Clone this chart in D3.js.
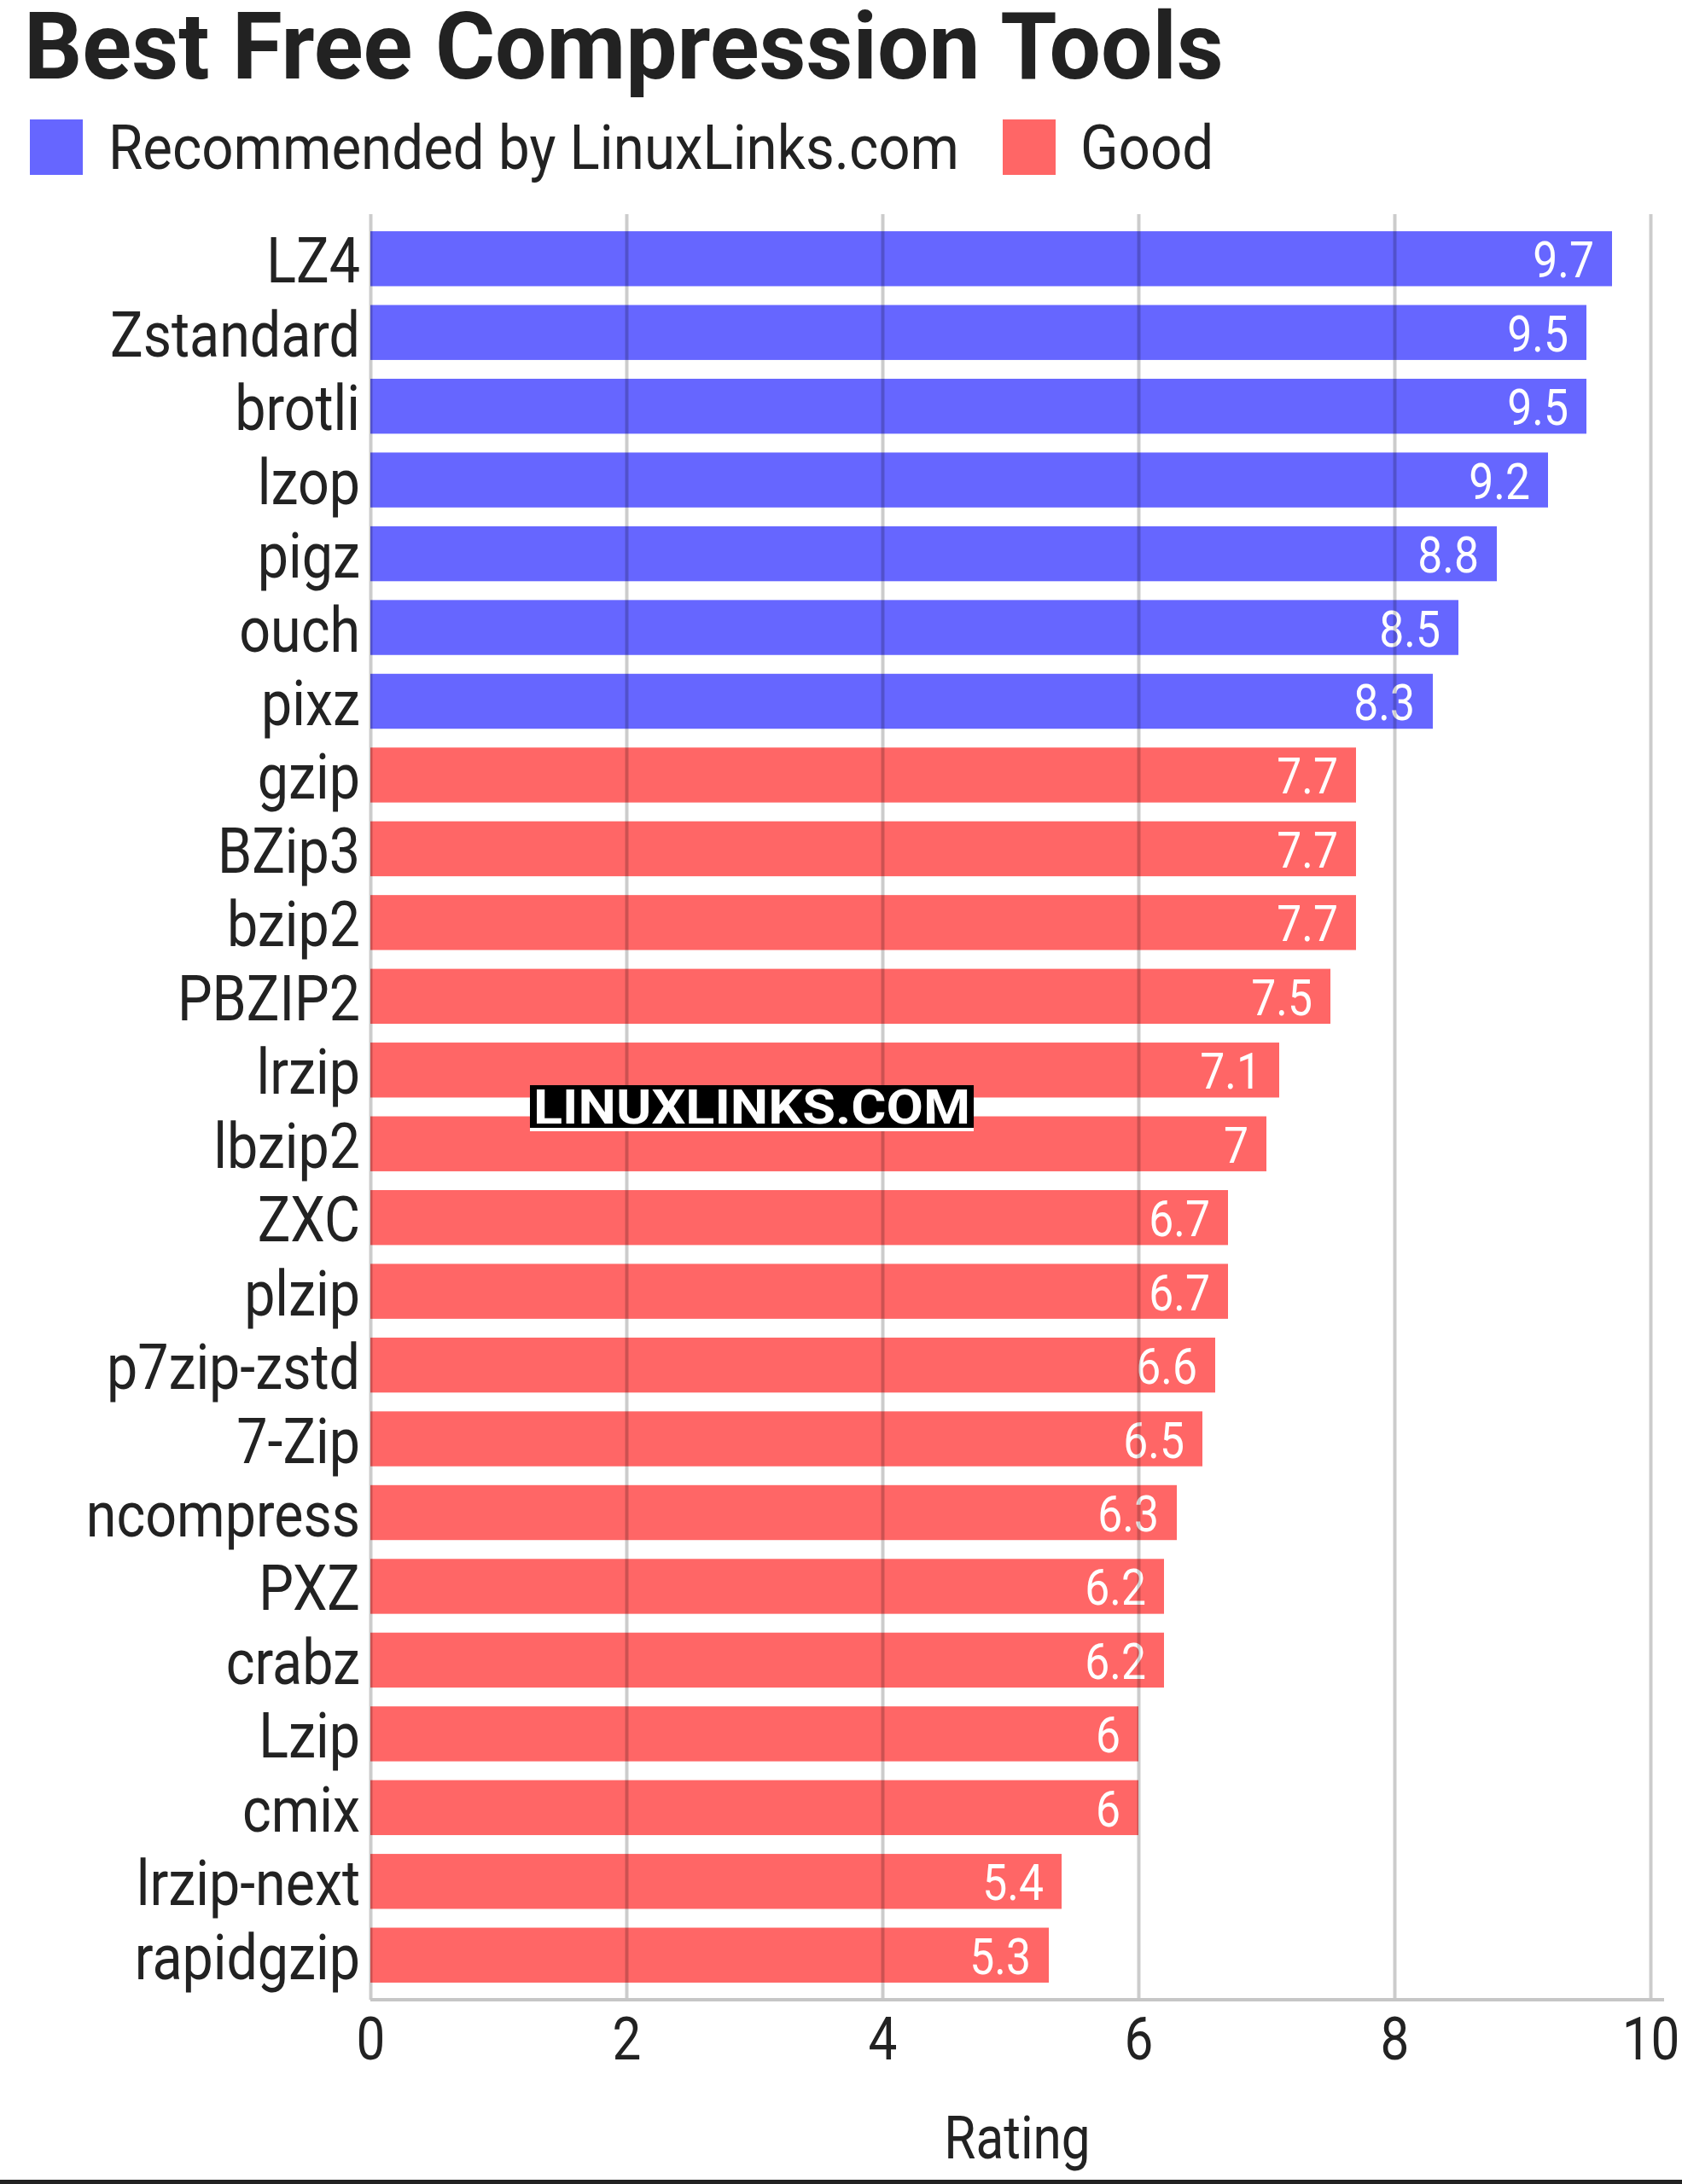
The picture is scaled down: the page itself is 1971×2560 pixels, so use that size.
<!DOCTYPE html>
<html><head><meta charset="utf-8">
<script src="https://cdn.jsdelivr.net/npm/d3@7"></script>
<style>
html,body{margin:0;padding:0;background:#fff;}
svg{display:block;}
text{font-family:Roboto, "Noto Sans", sans-serif;}
</style></head>
<body>
<script>
const categories = ["LZ4","Zstandard","brotli","lzop","pigz","ouch","pixz","gzip","BZip3","bzip2","PBZIP2","lrzip","lbzip2","ZXC","plzip","p7zip-zstd","7-Zip","ncompress","PXZ","crabz","Lzip","cmix","lrzip-next","rapidgzip"];
const ratings = [9.7,9.5,9.5,9.2,8.8,8.5,8.3,7.7,7.7,7.7,7.5,7.1,7,6.7,6.7,6.6,6.5,6.3,6.2,6.2,6,6,5.4,5.3];
const groups = ["rec","rec","rec","rec","rec","rec","rec","good","good","good","good","good","good","good","good","good","good","good","good","good","good","good","good","good"];
const legendLabels = ["Recommended by LinuxLinks.com","Good"];
const xTicks = [0,2,4,6,8,10];
const titleText = "Best Free Compression Tools";
const xAxisTitle = "Rating";
const watermark = "LINUXLINKS.COM";

const W = 1971, H = 2560;
const colors = {rec:"#6666ff", good:"#ff6666"};
const pLeft = 434, pRight = 1934, pTop = 251, pBottom = 2344;

const svg = d3.select("body").append("svg").attr("width",W).attr("height",H);

const x = d3.scaleLinear().domain([0,10]).range([pLeft,pRight]);
const y = d3.scaleBand().domain(categories).range([pTop,pBottom]).paddingInner(0.255).paddingOuter(0.232);

function measure(txt, size, weight){
  const t = svg.append("text").attr("font-size",size).attr("font-weight",weight).text(txt);
  const w = t.node().getComputedTextLength(); t.remove(); return w;
}
const sxTitle = 1406 / measure(titleText,109,"bold");
const sxLegend = 997 / measure(legendLabels[0],72,"normal");
const sxLabel = 293 / measure("Zstandard",75,"normal");

// title
svg.append("text").attr("transform",`translate(28,92) scale(${sxTitle},1)`)
  .attr("font-size",109).attr("font-weight","bold").attr("fill","#222").text(titleText);

// legend
const legX = [[35,127],[1175,1266]];
["rec","good"].forEach((g,i)=>{
  svg.append("rect").attr("x",legX[i][0]).attr("y",140).attr("width",62).attr("height",65).attr("fill",colors[g]);
  svg.append("text").attr("transform",`translate(${legX[i][1]},198) scale(${sxLegend},1)`)
    .attr("font-size",72).attr("fill","#222").text(legendLabels[i]);
});

// bars
const data = categories.map((c,i)=>({c, v:ratings[i], g:groups[i]}));
svg.append("g").selectAll("rect").data(data).join("rect")
  .attr("x",x(0)).attr("y",d=>y(d.c)).attr("width",d=>x(d.v)-x(0)).attr("height",y.bandwidth())
  .attr("fill",d=>colors[d.g]);

// value labels
svg.append("g").selectAll("text").data(data).join("text")
  .attr("transform",d=>`translate(${x(d.v)-21},${y(d.c)+y.bandwidth()/2+22}) scale(${sxLabel},1)`)
  .attr("text-anchor","end").attr("font-size",60).attr("fill","#fff")
  .text(d=>d3.format("~g")(d.v));

// gridlines (on top of bars)
const grid = svg.append("g").attr("transform",`translate(0,${pBottom})`)
  .call(d3.axisBottom(x).tickValues(xTicks).tickSize(-(pBottom-pTop)).tickFormat(""));
grid.select(".domain").remove();
grid.selectAll("line").attr("stroke","rgba(0,0,0,0.2)").attr("stroke-width",4);

// category labels
const yAx = svg.append("g").attr("transform",`translate(${pLeft},0)`)
  .call(d3.axisLeft(y).tickSize(0).tickPadding(0));
yAx.select(".domain").remove();
yAx.selectAll("text").attr("x",null).attr("dy",null)
  .attr("transform",`translate(-12,28) scale(${sxLabel},1)`)
  .attr("font-size",75).attr("font-family","Roboto").attr("fill","#222");

// x axis domain line
svg.append("line").attr("x1",pLeft).attr("x2",1950).attr("y1",pBottom).attr("y2",pBottom)
  .attr("stroke","#c6c6c6").attr("stroke-width",4);

// x tick labels
const xAx = svg.append("g").attr("transform",`translate(0,${pBottom})`)
  .call(d3.axisBottom(x).tickValues(xTicks).tickSize(0).tickFormat(d3.format("d")));
xAx.select(".domain").remove();
xAx.selectAll("text").attr("y",null).attr("dy",null)
  .attr("transform",`translate(0,70) scale(${sxLabel},1)`)
  .attr("font-size",70).attr("font-family","Roboto").attr("fill","#222");

// x axis title
svg.append("text").attr("transform",`translate(1192,2530) scale(${sxLabel},1)`)
  .attr("text-anchor","middle").attr("font-size",70).attr("fill","#222").text(xAxisTitle);

// watermark
svg.append("rect").attr("x",621).attr("y",1272).attr("width",520).attr("height",50).attr("fill","#000");
svg.append("rect").attr("x",621).attr("y",1322).attr("width",520).attr("height",4).attr("fill","#fff");
svg.append("text").attr("x",881).attr("y",1317).attr("text-anchor","middle")
  .attr("font-family","'DejaVu Sans', sans-serif").attr("font-weight","bold").attr("font-size",56)
  .attr("textLength",512).attr("lengthAdjust","spacingAndGlyphs")
  .attr("fill","#fff").text(watermark);

// bottom border line
svg.append("rect").attr("x",0).attr("y",2555).attr("width",W).attr("height",5).attr("fill","#222");
</script>
</body></html>
